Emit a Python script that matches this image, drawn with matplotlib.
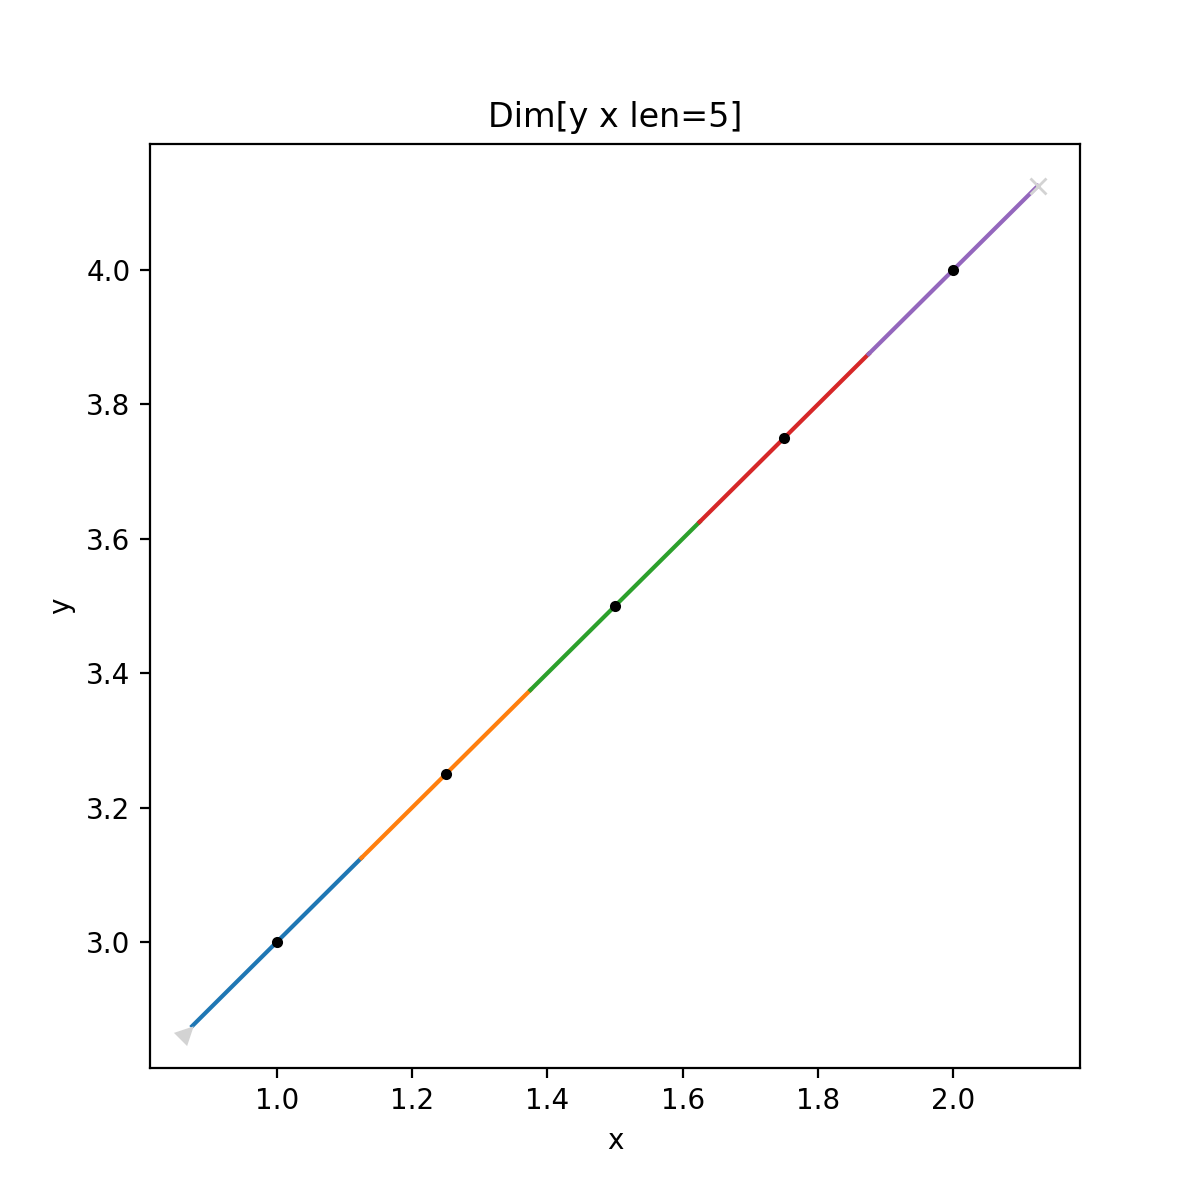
import matplotlib
matplotlib.use("Agg")
import matplotlib.pyplot as plt
from matplotlib.markers import MarkerStyle
from matplotlib.transforms import Affine2D
import numpy as np

x_vals = [1.0, 1.25, 1.5, 1.75, 2.0]
y_vals = [3.0, 3.25, 3.5, 3.75, 4.0]
seg_colors = ["#1f77b4", "#ff7f0e", "#2ca02c", "#d62728", "#9467bd"]
title = "Dim[y x len=5]"


def edges(v):
    v = np.asarray(v)
    mids = (v[1:] + v[:-1]) / 2
    first = v[0] - (v[1] - v[0]) / 2
    last = v[-1] + (v[-1] - v[-2]) / 2
    return np.concatenate([[first], mids, [last]])


def main():
    xe = edges(x_vals)
    ye = edges(y_vals)

    fig, ax = plt.subplots(figsize=(6, 6), dpi=200)
    for i in range(len(x_vals)):
        ax.plot([xe[i], xe[i + 1]], [ye[i], ye[i + 1]], "-", color=seg_colors[i], lw=1.5)
    ax.plot(x_vals, y_vals, ".", color="black", zorder=3)

    # freeze limits so the start/end markers don't move them
    ax.autoscale_view()
    ax.set_xlim(ax.get_xlim())
    ax.set_ylim(ax.get_ylim())

    # start marker: arrowhead pointing along the line, sits a bit before the start
    dx = x_vals[1] - x_vals[0]
    dy = y_vals[1] - y_vals[0]
    ang = np.degrees(np.arctan2(dy, dx))
    start_m = MarkerStyle(">", transform=Affine2D().rotate_deg(ang))
    ax.plot(xe[0] - 0.04 * dx, ye[0] - 0.04 * dy, marker=start_m, ms=5, color="lightgray",
            ls="none", zorder=4)
    ax.plot(xe[-1], ye[-1], marker="x", color="lightgray", ls="none", zorder=4)

    ax.set_title(title)
    ax.set_xlabel("x")
    ax.set_ylabel("y")
    fig.savefig("out.png")


if __name__ == "__main__":
    main()
